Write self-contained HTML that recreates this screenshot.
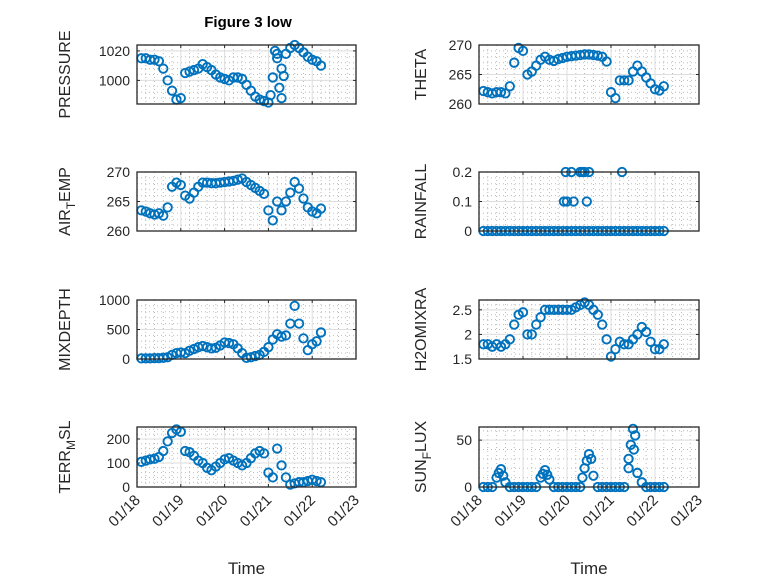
<!DOCTYPE html>
<html><head><meta charset="utf-8"><style>
body{margin:0;background:#fff}
svg{display:block;font-family:"Liberation Sans","DejaVu Sans",sans-serif}
</style></head><body>
<svg id="fig" width="778" height="583" viewBox="0 0 778 583">
<rect width="778" height="583" fill="#fff"/>
<text x="248" y="27" font-size="15" font-weight="bold" text-anchor="middle" fill="#000">Figure 3 low</text>
</svg>
<script>
// shared time axis (days after 01/18 00:00)
const t = [0.1,0.2,0.3,0.4,0.5,0.6,0.7,0.8,0.9,1.0,1.1,1.2,1.3,1.4,1.5,1.6,1.7,1.8,1.9,2.0,2.1,2.2,2.3,2.4,2.5,2.6,2.7,2.8,2.9,3.0,3.1,3.2,3.3,3.4,3.5,3.6,3.7,3.8,3.9,4.0,4.1,4.2];
const xTickLabels = ["01/18","01/19","01/20","01/21","01/22","01/23"];
const pressure = [1015,1015,1014,1014,1013,1008,1000,993,987,988,1005,1006,1007,1008,1011,1009,1007,1004,1002,1001,1000,1002,1002,1001,997,993,989,987,986,985,1002,1015,1008,1018,1022,1024,1022,1019,1016,1014,1013,1010];
const pressureExtraT = [3.05,3.15,3.25,3.3,3.35,3.2];
const pressureExtraV = [990,1020,995,988,1003,1018];
const theta = [262.2,262,261.8,262,262,261.8,263,267,269.5,269,265,265.5,266.5,267.5,268,267.5,267.3,267.6,267.8,268,268.1,268.2,268.3,268.4,268.4,268.3,268.2,268,267.2,262,261,264,264,264,265.5,266.5,265.5,264.5,263.5,262.5,262.3,263];
const airTemp = [263.5,263.3,263,262.8,263,262.6,264,267.5,268.2,267.8,266,265.5,266.5,267.5,268.2,268.2,268.1,268.1,268.2,268.3,268.4,268.5,268.7,268.9,268.3,267.8,267.3,266.8,266.3,263.5,261.8,265,263.5,265,266.5,268.3,267.2,265.5,264,263.3,263,263.8];
const rainfall = [0,0,0,0,0,0,0,0,0,0,0,0,0,0,0,0,0,0,0,0,0,0,0,0,0,0,0,0,0,0,0,0,0,0,0,0,0,0,0,0,0,0];
const rainExtraT = [1.93,1.97,2.0,2.1,2.15,2.3,2.35,2.4,2.45,2.5,3.25];
const rainExtraV = [0.1,0.2,0.1,0.2,0.1,0.2,0.2,0.2,0.1,0.2,0.2];
const mixDepth = [10,10,10,15,15,20,30,70,100,110,100,140,170,200,220,200,180,190,230,280,270,250,180,100,20,30,50,70,120,200,330,420,380,400,600,900,600,350,150,250,300,450];
const h2oMix = [1.8,1.8,1.75,1.8,1.75,1.8,1.9,2.2,2.4,2.45,2.0,2.0,2.2,2.35,2.5,2.5,2.5,2.5,2.5,2.5,2.5,2.55,2.6,2.65,2.6,2.5,2.4,2.2,1.9,1.55,1.7,1.85,1.8,1.8,1.9,2.0,2.15,2.05,1.85,1.7,1.7,1.8];
const terrMsl = [105,110,115,118,125,150,190,225,240,230,150,145,130,110,100,80,70,85,100,115,120,110,100,90,100,120,140,150,140,60,40,160,90,40,10,15,20,20,25,30,25,20];
const sunFlux = [0,0,0,10,19,5,0,0,0,0,0,0,0,10,18,8,0,0,0,0,0,0,0,20,35,12,0,0,0,0,0,0,0,30,62,15,5,0,0,0,0,0];
const sunExtraT = [0.45,0.55,1.45,1.55,2.45,2.55,2.35,3.45,3.55,3.4,3.52];
const sunExtraV = [15,12,14,13,28,30,10,45,55,20,40];

const NS = "http://www.w3.org/2000/svg";
const svg = document.getElementById('fig');
function el(tag, attrs, parent){const e=document.createElementNS(NS,tag);for(const k in attrs)e.setAttribute(k,attrs[k]);(parent||svg).appendChild(e);return e;}

const panels = [
 {name:'pressure', x0:137,x1:356,y0:45,y1:104, ymin:984, ymax:1024, ticks:[1000,1020], ys:pressure, ex:pressureExtraT, ev:pressureExtraV, label:['PRESSURE']},
 {name:'theta', x0:479,x1:699,y0:45,y1:104, ymin:260, ymax:270, ticks:[260,265,270], ys:theta, label:['THETA']},
 {name:'air-temp', x0:137,x1:356,y0:172,y1:231, ymin:260, ymax:270, ticks:[260,265,270], ys:airTemp, label:['AIR','T','EMP']},
 {name:'rainfall', x0:479,x1:699,y0:172,y1:231, ymin:0, ymax:0.2, ticks:[0,0.1,0.2], ys:rainfall, ex:rainExtraT, ev:rainExtraV, label:['RAINFALL']},
 {name:'mixdepth', x0:137,x1:356,y0:300,y1:359, ymin:0, ymax:1000, ticks:[0,500,1000], ys:mixDepth, label:['MIXDEPTH']},
 {name:'h2omixra', x0:479,x1:699,y0:300,y1:359, ymin:1.5, ymax:2.7, ticks:[1.5,2,2.5], ys:h2oMix, label:['H2OMIXRA']},
 {name:'terr-msl', x0:137,x1:356,y0:427,y1:487, ymin:0, ymax:250, ticks:[0,100,200], ys:terrMsl, label:['TERR','M','SL'], bottom:true},
 {name:'sun-flux', x0:479,x1:699,y0:427,y1:487, ymin:0, ymax:64, ticks:[0,50], ys:sunFlux, ex:sunExtraT, ev:sunExtraV, label:['SUN','F','LUX'], bottom:true}
];

panels.forEach(p=>{
  const g = el('g',{});
  
  
  const X = d => p.x0 + (d/5)*(p.x1-p.x0);
  const Y = v => p.y1 - (v-p.ymin)/(p.ymax-p.ymin)*(p.y1-p.y0);
  for(let d=0; d<=5.0001; d+=0.2){ if(Math.abs(d-Math.round(d))<1e-6) continue;
    el('line',{x1:X(d),x2:X(d),y1:p.y0,y2:p.y1,stroke:'#bbb','stroke-width':1,'stroke-dasharray':'1 3'},g);}
  const step=(p.ticks[1]-p.ticks[0])/5;
  for(let v=p.ticks[0]-10*step; v<=p.ymax+1e-9; v+=step){ if(v<p.ymin-1e-9) continue;
    el('line',{x1:p.x0,x2:p.x1,y1:Y(v),y2:Y(v),stroke:'#bbb','stroke-width':1,'stroke-dasharray':'1 3'},g);}
  for(let d=1; d<5; d++) el('line',{x1:X(d),x2:X(d),y1:p.y0,y2:p.y1,stroke:'#dedede','stroke-width':1},g);
  p.ticks.forEach(v=>{ el('line',{x1:p.x0,x2:p.x1,y1:Y(v),y2:Y(v),stroke:'#dedede','stroke-width':1},g);
    const tl = el('text',{x:p.x0-7,y:Y(v)+5,'font-size':14,'text-anchor':'end',fill:'#262626'},g);
    tl.textContent = String(v);
    
    
    el('line',{x1:p.x0,x2:p.x0+3,y1:Y(v),y2:Y(v),stroke:'#262626'},g);
    el('line',{x1:p.x1,x2:p.x1-3,y1:Y(v),y2:Y(v),stroke:'#262626'},g);
  });
  for(let d=0; d<=5; d++){
    el('line',{x1:X(d),x2:X(d),y1:p.y1,y2:p.y1-3,stroke:'#262626'},g);
    el('line',{x1:X(d),x2:X(d),y1:p.y0,y2:p.y0+3,stroke:'#262626'},g);
    if(p.bottom){
      const xl = el('text',{x:X(d)+4,y:p.y1+14,'font-size':15,'text-anchor':'end',fill:'#262626',transform:`rotate(-45 ${X(d)+4} ${p.y1+14})`},g);
      xl.textContent = xTickLabels[d];
      
      
    }
  }
  const sg = el('g',{fill:'none',stroke:'#0072BD','stroke-width':1.9},g);
  
  
  t.forEach((d,i)=>{ const c=el('circle',{cx:X(d),cy:Y(p.ys[i]),r:4.2},sg);
    
     });
  if(p.ex) p.ex.forEach((d,i)=>{ const c=el('circle',{cx:X(d),cy:Y(p.ev[i]),r:4.2},sg);
    
     });
  el('rect',{x:p.x0,y:p.y0,width:p.x1-p.x0,height:p.y1-p.y0,fill:'none',stroke:'#262626','stroke-width':1.3},g);
  const cx = p.x0 - (p.x0<300 ? 67 : 53), cy=(p.y0+p.y1)/2;
  const yl = el('text',{x:cx,y:cy,'font-size':16,'text-anchor':'middle',fill:'#262626',transform:`rotate(-90 ${cx} ${cy})`},g);
  
  
  if(p.label.length===1){ yl.textContent=p.label[0]; }
  else { const a=el('tspan',{},yl); a.textContent=p.label[0];
    const b=el('tspan',{dy:5,'font-size':12},yl); b.textContent=p.label[1];
    const c=el('tspan',{dy:-5},yl); c.textContent=p.label[2]; }
  if(p.bottom){
    const xt = el('text',{x:(p.x0+p.x1)/2,y:574,'font-size':17,'text-anchor':'middle',fill:'#262626'},g);
    xt.textContent='Time';
    
    
  }
});
</script>
</body></html>
